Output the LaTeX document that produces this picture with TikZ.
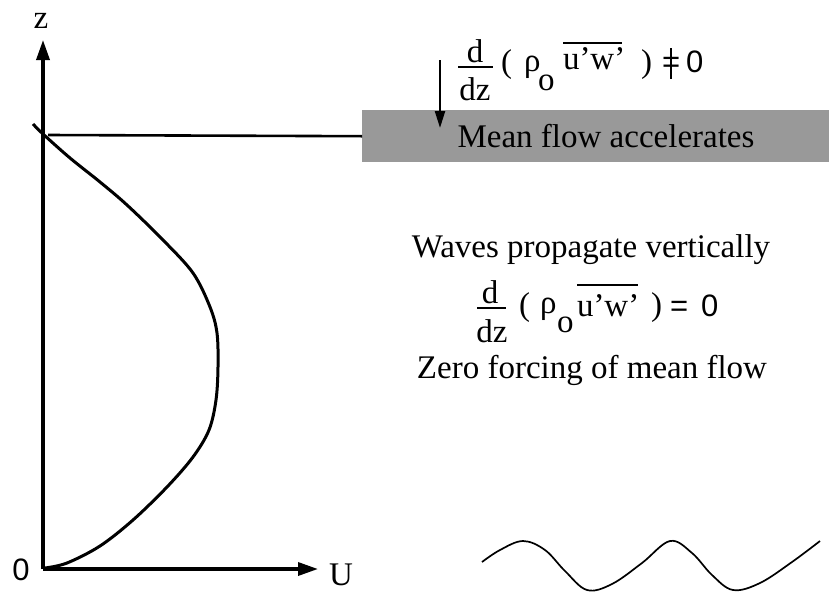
\documentclass[tikz,border=0pt]{standalone}
\usepackage{fontspec}
\setmainfont{Liberation Serif}
\newfontfamily\hsans{Liberation Sans}
\usetikzlibrary{arrows.meta}
\newcommand{\neqbar}{\ooalign{=\cr\hidewidth\rule[-0.22em]{1.3pt}{1.0em}\hidewidth\cr}}
\begin{document}
\begin{tikzpicture}[x=1pt,y=-1pt,
  txt/.style={font=\fontsize{33}{38}\selectfont, inner sep=0pt, outer sep=0pt},
  stxt/.style={font=\hsans\fontsize{31}{36}\selectfont, inner sep=0pt, outer sep=0pt},
  axis/.style={line width=3.4pt, -{Triangle[length=20pt,width=13pt]}},
  thick line/.style={line width=3pt},
  rule line/.style={line width=1.5pt}]
\useasboundingbox (0,0) rectangle (829,592);

% shaded band
\node[fill=black!40, draw=none, minimum width=467pt, minimum height=52pt, anchor=north west, inner sep=0pt] (box) at (362,110) {};
\node[txt, anchor=base] (mfa) at (606,147) {Mean flow accelerates};

% axes
\coordinate (O) at (43,569);
\coordinate (ztip) at (43,40);
\coordinate (utip) at (318,569);
\draw[axis] (O) -- (ztip);
\draw[axis] (O) -- (utip);
\node[txt, anchor=base] (zl) at (41,28) {z};
\node[txt, anchor=base] (ul) at (341,585) {U};
\node[stxt, anchor=base] (ol) at (21,580) {0};

% horizontal level line
\coordinate (hl) at (48,135);
\draw[line width=2.6pt] (hl) -- (box.west);

% wind profile
\draw[thick line, line join=round] plot[smooth, tension=0.55] coordinates {
 (33,124) (43,134) (70,158) (100,182) (127,205) (163,240) (193,273) (210,307)
 (217,333) (218,367) (216,400) (209,430) (193,457) (167,487) (133,520)
 (100,546) (67,563) (45,568)};

% down arrow
\coordinate (astart) at (440,60);
\coordinate (aend) at (440,128);
\draw[line width=2.2pt, -{Triangle[length=17pt,width=10pt]}] (astart) -- (aend);

% top formula
\node[txt, anchor=base] (d1) at (475,62) {d};
\node[txt, anchor=base] (dz1) at (475,100) {dz};
\draw[rule line] (458,67) -- (493,67);
\node[txt, anchor=base west] (lp1) at (501,72) {(};
\node[txt, anchor=base west] (rho1) at (524,71) {ρ};
\node[txt, anchor=base west] (o1) at (538,90) {o};
\node[txt, anchor=base west] (uw1) at (563,69) {u’w’};
\draw[rule line] (563,43) -- (622,43);
\node[txt, anchor=base west] (rp1) at (641,72) {)};
\node[stxt, anchor=base west] (ne1) at (662,72) {\neqbar};
\node[stxt, anchor=base west] (z1) at (686,72) {0};

% middle text
\node[txt, anchor=base] (wpv) at (591,257) {Waves propagate vertically};
\node[txt, anchor=base] (d2) at (490,303) {d};
\node[txt, anchor=base] (dz2) at (492,342) {dz};
\draw[rule line] (477,308) -- (506,308);
\node[txt, anchor=base west] (lp2) at (519,315) {(};
\node[txt, anchor=base west] (rho2) at (540,313) {ρ};
\node[txt, anchor=base west] (o2) at (557,332) {o};
\node[txt, anchor=base west] (uw2) at (577,316) {u’w’};
\draw[rule line] (577,285) -- (638,285);
\node[txt, anchor=base west] (rp2) at (651,315) {)};
\node[stxt, anchor=base west] (eq2) at (670,316) {=};
\node[stxt, anchor=base west] (z2) at (701,316) {0};
\node[txt, anchor=base] (zf) at (592,378) {Zero forcing of mean flow};

% wave
\draw[line width=1.7pt] plot[smooth, tension=0.6] coordinates {
 (482,562) (500,550) (523,541) (545,550) (565,571) (587,590) (612,584)
 (642,563) (670,541) (692,553) (712,575) (733,590) (760,583) (792,562) (820,541)};
\end{tikzpicture}
\end{document}
